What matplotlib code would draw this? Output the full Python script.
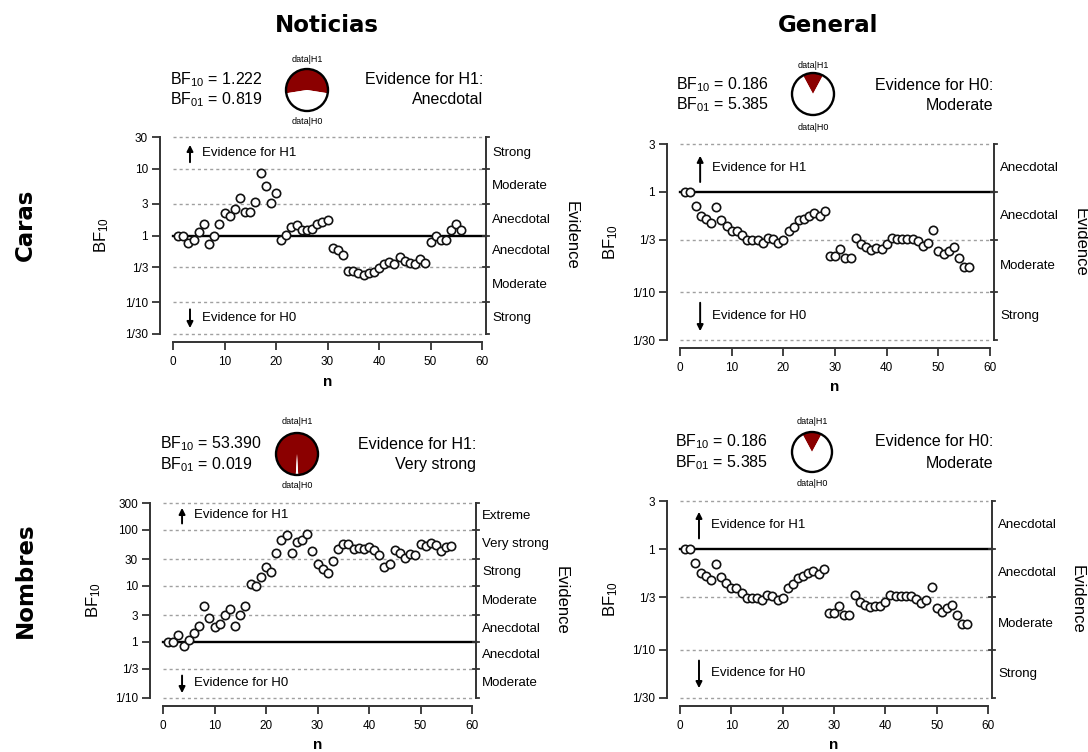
import numpy as np
import matplotlib
matplotlib.use("Agg")
import matplotlib.pyplot as plt
from matplotlib.ticker import NullLocator

plt.rcParams['font.family'] = ['Liberation Sans', 'DejaVu Sans']
plt.rcParams['mathtext.default'] = 'regular'

# ---------------- data ----------------
n_obs = list(range(1, 57))

bf_caras_noticias = [1.0, 1.0, 0.76, 0.85, 1.12, 1.48, 0.74, 1.0, 1.48, 2.14,
                     1.96, 2.54, 3.64, 2.22, 2.22, 3.2, 8.7, 5.57, 3.07, 4.36,
                     0.87, 1.03, 1.32, 1.45, 1.2, 1.22, 1.27, 1.48, 1.58, 1.68,
                     0.645, 0.6, 0.51, 0.29, 0.29, 0.27, 0.26, 0.27, 0.28, 0.32,
                     0.38, 0.40, 0.38, 0.48, 0.41, 0.39, 0.37, 0.45, 0.39, 0.80,
                     0.98, 0.87, 0.85, 1.22, 1.48, 1.22]

bf_caras_general = [1.0, 1.0, 0.72, 0.58, 0.54, 0.49, 0.71, 0.53, 0.46, 0.41,
                    0.41, 0.37, 0.33, 0.33, 0.33, 0.31, 0.35, 0.34, 0.31, 0.33,
                    0.41, 0.45, 0.52, 0.54, 0.58, 0.61, 0.57, 0.64, 0.23, 0.23,
                    0.27, 0.22, 0.22, 0.35, 0.30, 0.28, 0.265, 0.275, 0.27, 0.30,
                    0.35, 0.34, 0.34, 0.34, 0.34, 0.32, 0.29, 0.31, 0.42, 0.26,
                    0.24, 0.26, 0.28, 0.22, 0.18, 0.18]

bf_nombres_noticias = [1.0, 1.0, 1.31, 0.84, 1.1, 1.44, 1.95, 4.36, 2.62, 1.88,
                       2.06, 3.08, 3.81, 1.95, 3.0, 4.36, 10.7, 10.0, 14.5, 21.7,
                       17.5, 38, 65, 82, 38, 61, 65, 85, 42, 24.5,
                       19.6, 17, 27.3, 45, 55, 55, 45, 48, 45, 50,
                       44, 36, 21.7, 24.5, 44, 39, 31, 37, 35, 55,
                       52, 58, 53, 42.5, 48.5, 51]

bf_nombres_general = [1.0, 1.0, 0.72, 0.58, 0.54, 0.49, 0.71, 0.53, 0.46, 0.41,
                      0.41, 0.37, 0.33, 0.33, 0.33, 0.31, 0.35, 0.34, 0.31, 0.33,
                      0.41, 0.45, 0.52, 0.54, 0.58, 0.61, 0.57, 0.64, 0.23, 0.23,
                      0.27, 0.22, 0.22, 0.35, 0.30, 0.28, 0.265, 0.275, 0.27, 0.30,
                      0.35, 0.34, 0.34, 0.34, 0.34, 0.32, 0.29, 0.31, 0.42, 0.26,
                      0.24, 0.26, 0.28, 0.22, 0.18, 0.18]

col_titles = ['Noticias', 'General']
row_titles = ['Caras', 'Nombres']

bf10_values = [1.222, 0.186, 53.390, 0.186]
bf01_values = [0.819, 5.385, 0.019, 5.385]
evidence_for = ['H1', 'H0', 'H1', 'H0']
evidence_cat = ['Anecdotal', 'Moderate', 'Very strong', 'Moderate']

ticks_a = [1/30, 1/10, 1/3, 1, 3, 10, 30]
ticklabels_a = ['1/30', '1/10', '1/3', '1', '3', '10', '30']
cats_a = ['Strong', 'Moderate', 'Anecdotal', 'Anecdotal', 'Moderate', 'Strong']

ticks_b = [1/30, 1/10, 1/3, 1, 3]
ticklabels_b = ['1/30', '1/10', '1/3', '1', '3']
cats_b = ['Strong', 'Moderate', 'Anecdotal', 'Anecdotal']

ticks_c = [1/10, 1/3, 1, 3, 10, 30, 100, 300]
ticklabels_c = ['1/10', '1/3', '1', '3', '10', '30', '100', '300']
cats_c = ['Moderate', 'Anecdotal', 'Anecdotal', 'Moderate', 'Strong', 'Very strong', 'Extreme']

x_ticks = [0, 10, 20, 30, 40, 50, 60]

# ---------------- layout (pixels) ----------------
W, H = 1088, 752
fig = plt.figure(figsize=(W / 100, H / 100), dpi=100)
fig.patch.set_facecolor('white')

panels = [
    dict(bf=bf_caras_noticias, ticks=ticks_a, tl=ticklabels_a, cats=cats_a,
         box=(173, 482, 137, 334), n_y=382, ylab=-62,
         h1=(3.3, 0.872, 0.960, 0.919), h0=(3.3, 0.125, 0.030, 0.081),
         hdr=dict(bfx=170, bfy=(80, 100), pie=(307, 90, 21), dh1=59, dh0=121, evx=483)),
    dict(bf=bf_caras_general, ticks=ticks_b, tl=ticklabels_b, cats=cats_b,
         box=(680, 990, 144, 340), n_y=387, ylab=-60,
         h1=(3.9, 0.806, 0.940, 0.878), h0=(3.9, 0.19, 0.045, 0.122),
         hdr=dict(bfx=676, bfy=(85, 105), pie=(813, 94, 21), dh1=65, dh0=128, evx=993)),
    dict(bf=bf_nombres_noticias, ticks=ticks_c, tl=ticklabels_c, cats=cats_c,
         box=(163, 472, 503, 698), n_y=745, ylab=-60,
         h1=(3.7, 0.895, 0.975, 0.94), h0=(3.7, 0.115, 0.025, 0.077),
         hdr=dict(bfx=160, bfy=(444, 465), pie=(297, 454, 21), dh1=422, dh0=486, evx=476)),
    dict(bf=bf_nombres_general, ticks=ticks_b, tl=ticklabels_b, cats=cats_b,
         box=(680, 988, 501, 698), n_y=745, ylab=-60,
         h1=(3.7, 0.81, 0.945, 0.88), h0=(3.7, 0.19, 0.05, 0.127),
         hdr=dict(bfx=675, bfy=(442, 463), pie=(812, 452, 20), dh1=422, dh0=483, evx=993)),
]

spine_col = '#333333'
grid_col = '#a0a0a0'

for i, p in enumerate(panels):
    x0, x60, ytop, ybot = p['box']
    wpx, hpx = x60 - x0, ybot - ytop
    ax = fig.add_axes([x0 / W, 1 - ybot / H, wpx / W, hpx / H])
    ax.set_yscale('log')
    ticks = p['ticks']
    ax.set_xlim(0, 60)
    ax.set_ylim(ticks[0], ticks[-1])
    ax.patch.set_alpha(0)

    for t in ticks:
        if t != 1:
            ax.plot([0, 60], [t, t], color=grid_col, lw=1.0, ls=(0, (2.2, 2.2)),
                    zorder=1, clip_on=False)
    ax.plot([0, 60.7], [1, 1], color='black', lw=1.7, zorder=2, clip_on=False)
    ax.plot(n_obs, p['bf'], 'o', mfc='white', mec='#111111', ms=6.0, mew=1.2,
            zorder=3, clip_on=False)

    # axes styling
    for s in ['top', 'right']:
        ax.spines[s].set_visible(False)
    ax.spines['left'].set_position(('outward', 9.5))
    ax.spines['bottom'].set_position(('outward', 5.5))
    ax.spines['left'].set_bounds(ticks[0], ticks[-1])
    ax.spines['bottom'].set_bounds(0, 60)
    for s in ['left', 'bottom']:
        ax.spines[s].set_color(spine_col)
        ax.spines[s].set_linewidth(1.4)
    ax.set_yticks(ticks)
    ax.set_yticklabels(p['tl'])
    ax.yaxis.set_minor_locator(NullLocator())
    ax.set_xticks(x_ticks)
    ax.tick_params(direction='out', length=5.5, width=1.3, colors=spine_col,
                   labelsize=8.5, labelcolor='black')
    ax.tick_params(axis='x', pad=5)
    ax.tick_params(axis='y', pad=3)

    ax.set_ylabel('BF$_{10}$', fontsize=12)
    ax.yaxis.set_label_coords(p['ylab'] / wpx, 0.5)
    ax.text(0.5, -(p['n_y'] - ybot) / hpx, 'n', transform=ax.transAxes,
            ha='center', va='center', fontsize=11, fontweight='bold')

    # right evidence bracket
    ax.plot([60.7, 60.7], [ticks[0], ticks[-1]], color=spine_col, lw=1.4, clip_on=False)
    for k, t in enumerate(ticks):
        xs = 60.7 if k in (0, len(ticks) - 1) else 60.2
        ax.plot([xs, 61.4], [t, t], color=spine_col, lw=1.3, clip_on=False)
    for k in range(len(ticks) - 1):
        ym = np.sqrt(ticks[k] * ticks[k + 1])
        ax.text(62.0, ym, p['cats'][k], ha='left', va='center', fontsize=9.5)
    ax.text(77.4, 0.5, 'Evidence', rotation=-90, transform=ax.get_xaxis_transform(),
            ha='center', va='center', fontsize=12)

    # evidence arrows
    tr = ax.get_xaxis_transform()
    xa, yfrom, yto, ytext = p['h1']
    ax.annotate('', xy=(xa, yto), xytext=(xa, yfrom), xycoords=tr, textcoords=tr,
                arrowprops=dict(arrowstyle='-|>', color='black', lw=1.4, mutation_scale=9,
                                shrinkA=0, shrinkB=0))
    ax.text(xa + 2.3, ytext, 'Evidence for H1', transform=tr, ha='left', va='center', fontsize=9.5)
    xa, yfrom, yto, ytext = p['h0']
    ax.annotate('', xy=(xa, yto), xytext=(xa, yfrom), xycoords=tr, textcoords=tr,
                arrowprops=dict(arrowstyle='-|>', color='black', lw=1.4, mutation_scale=9,
                                shrinkA=0, shrinkB=0))
    ax.text(xa + 2.3, ytext, 'Evidence for H0', transform=tr, ha='left', va='center', fontsize=9.5)

    # header
    hd = p['hdr']
    fig.text(hd['bfx'] / W, 1 - hd['bfy'][0] / H, 'BF$_{10}$ = %.3f' % bf10_values[i],
             ha='left', va='center', fontsize=11.5)
    fig.text(hd['bfx'] / W, 1 - hd['bfy'][1] / H, 'BF$_{01}$ = %.3f' % bf01_values[i],
             ha='left', va='center', fontsize=11.5)
    fig.text(hd['evx'] / W, 1 - hd['bfy'][0] / H, 'Evidence for %s:' % evidence_for[i],
             ha='right', va='center', fontsize=11.5)
    fig.text(hd['evx'] / W, 1 - hd['bfy'][1] / H, evidence_cat[i],
             ha='right', va='center', fontsize=11.5)
    cx, cy, r = hd['pie']
    pax = fig.add_axes([(cx - r - 2) / W, 1 - (cy + r + 2) / H, (2 * r + 4) / W, (2 * r + 4) / H])
    prop = bf10_values[i] / (1 + bf10_values[i])
    pax.pie([prop, 1 - prop], colors=['#8b0000', 'white'], startangle=90 - prop * 180,
            counterclock=True, radius=r / (r + 2), wedgeprops=dict(linewidth=0))
    circ = plt.Circle((0, 0), r / (r + 2), fill=False, edgecolor='black', lw=1.7)
    pax.add_patch(circ)
    pax.set_xlim(-1, 1)
    pax.set_ylim(-1, 1)
    pax.set_aspect('equal')
    pax.axis('off')
    fig.text(cx / W, 1 - hd['dh1'] / H, 'data|H1', ha='center', va='center', fontsize=6.5)
    fig.text(cx / W, 1 - hd['dh0'] / H, 'data|H0', ha='center', va='center', fontsize=6.5)

# titles
title_kw = dict(ha='center', va='center', fontsize=16.5, fontweight='bold', family='DejaVu Sans')
fig.text(327 / W, 1 - 25 / H, col_titles[0], **title_kw)
fig.text(828 / W, 1 - 25 / H, col_titles[1], **title_kw)
fig.text(25 / W, 1 - 225 / H, row_titles[0], rotation=90, **title_kw)
fig.text(25 / W, 1 - 580 / H, row_titles[1], rotation=90, **title_kw)

fig.savefig('out.png', dpi=100, facecolor='white')
